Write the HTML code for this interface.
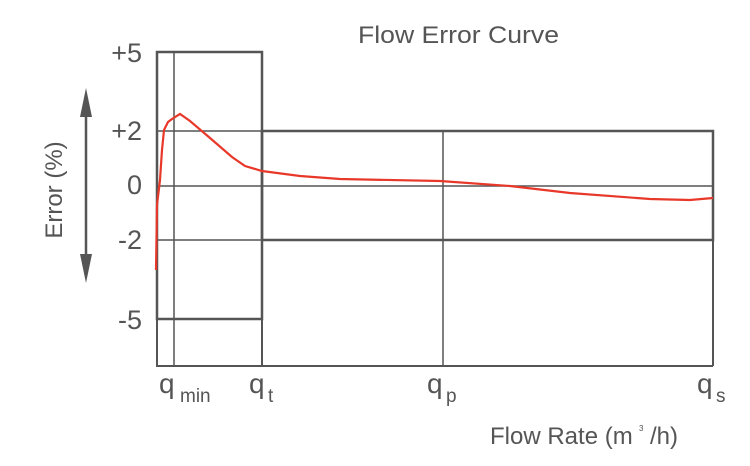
<!DOCTYPE html>
<html><head><style>body{margin:0;background:#fff;}svg{display:block}text{font-family:"Liberation Sans",sans-serif;fill:#555}</style></head>
<body>
<svg width="750" height="466" viewBox="0 0 750 466">
<g stroke="#555" fill="none">
<line x1="156" y1="186" x2="713" y2="186" stroke-width="1.5"/>
<line x1="174" y1="52" x2="174" y2="366" stroke-width="1.5"/>
<line x1="443" y1="131" x2="443" y2="366" stroke-width="1.5"/>
<line x1="156" y1="131" x2="262" y2="131" stroke-width="1.5"/>
<line x1="156" y1="240" x2="262" y2="240" stroke-width="1.5"/>
<line x1="156" y1="366" x2="713" y2="366" stroke-width="2"/>
<line x1="713" y1="240" x2="713" y2="366" stroke-width="2"/>
<rect x="157" y="52" width="105" height="267" stroke-width="2.5"/>
<line x1="262" y1="52" x2="262" y2="366" stroke-width="2"/>
<line x1="157" y1="52" x2="157" y2="366" stroke-width="2"/>
<rect x="262" y="131" width="451" height="109" stroke-width="2.5"/>
<line x1="86" y1="112" x2="86" y2="262" stroke-width="2.5"/>
</g>
<polygon points="86,88 80,117 92,117" fill="#555"/>
<polygon points="86,283 80,254 92,254" fill="#555"/>
<polyline fill="none" stroke="#e8382a" stroke-width="2.2" points="156,270 157,205 160,180 162,150 164,130 168,122 172,119 180,114 190,121 210,138 232,157 245,166 262,171 300,176 340,179 440,181 510,186 570,193 650,199 690,200 713,198"/>
<text x="358" y="43" font-size="24" textLength="201" lengthAdjust="spacingAndGlyphs">Flow Error Curve</text>
<g font-size="27" text-anchor="end">
<text x="142" y="62">+5</text>
<text x="142" y="140">+2</text>
<text x="142" y="194">0</text>
<text x="142" y="249">-2</text>
<text x="142" y="329">-5</text>
</g>
<text transform="translate(62,190) rotate(-90)" font-size="24" text-anchor="middle">Error (%)</text>
<g font-size="28">
<text x="159" y="393">q</text><text x="180" y="402" font-size="19">min</text>
<text x="249" y="393">q</text><text x="268" y="402" font-size="19">t</text>
<text x="427" y="393">q</text><text x="446" y="402" font-size="19">p</text>
<text x="697" y="393">q</text><text x="716" y="402" font-size="19">s</text>
</g>
<text x="490" y="444" font-size="24">Flow Rate (m</text>
<text x="650" y="444" font-size="24">/h)</text>
<text x="639" y="431" font-size="8">3</text>
</svg>
</body></html>
